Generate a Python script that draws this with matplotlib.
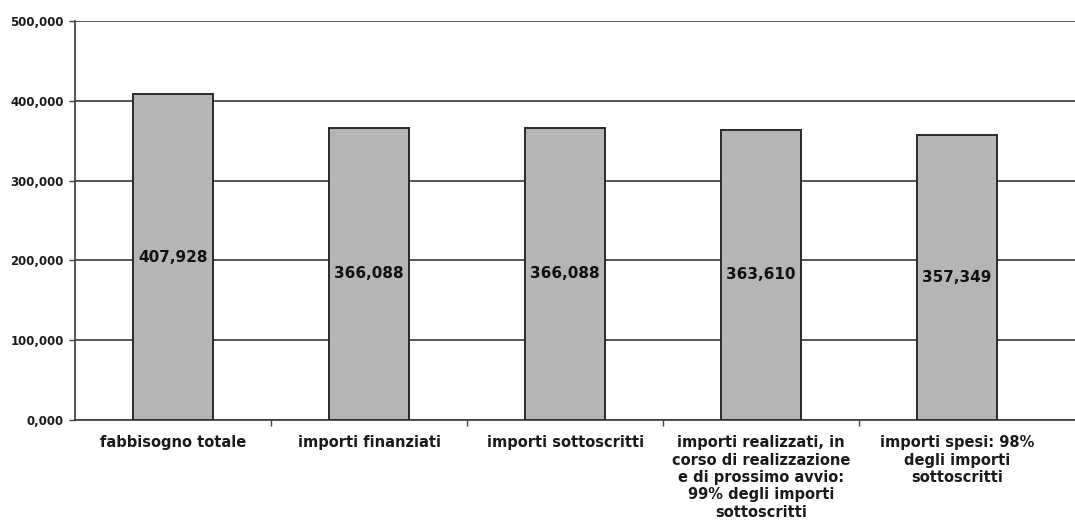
import matplotlib.pyplot as plt
from matplotlib.ticker import FixedLocator

categories = ['fabbisogno totale', 'importi finanziati', 'importi sottoscritti',
              'importi realizzati, in\ncorso di realizzazione\ne di prossimo avvio:\n99% degli importi\nsottoscritti',
              'importi spesi: 98%\ndegli importi\nsottoscritti']
values = [407928, 366088, 366088, 363610, 357349]
value_labels = ['407,928', '366,088', '366,088', '363,610', '357,349']
yticks = [0, 100000, 200000, 300000, 400000, 500000]
ytick_labels = ['0,000', '100,000', '200,000', '300,000', '400,000', '500,000']

fig = plt.figure(figsize=(10.75, 5.22), dpi=100)
ax = fig.add_axes([0.0698, 0.1954, 0.93, 0.7644])

x = range(len(categories))
bars = ax.bar(x, values, width=0.41, color='#b5b5b5', edgecolor='#2a2a2a', linewidth=1.4, zorder=3)

for i, v in enumerate(values):
    ax.text(i, v / 2, value_labels[i], ha='center', va='center', fontsize=11,
            fontweight='bold', color='#111111', zorder=4)

ax.set_ylim(0, 500000)
ax.set_xlim(-0.5, 4.6)
ax.set_yticks(yticks)
ax.set_yticklabels(ytick_labels, fontsize=8.5, fontweight='bold', color='#1a1a1a')
ax.yaxis.grid(True, color='#3a3a3a', linewidth=1.2, zorder=0)

ax.set_xticks(list(x))
ax.set_xticklabels(categories, fontsize=10.5, fontweight='bold', color='#1a1a1a', linespacing=1.2, va='top')
ax.tick_params(axis='x', length=0, pad=11)
ax.xaxis.set_minor_locator(FixedLocator([0.5, 1.5, 2.5, 3.5]))
ax.tick_params(axis='x', which='minor', length=4, color='#444444', width=1)
ax.tick_params(axis='y', length=4, color='#444444', width=1, pad=4)

for s in ['top', 'right']:
    ax.spines[s].set_visible(False)
ax.spines['left'].set_color('#3a3a3a')
ax.spines['bottom'].set_color('#3a3a3a')
ax.spines['left'].set_linewidth(1.2)
ax.spines['bottom'].set_linewidth(1.2)

fig.savefig('out.png', dpi=100)
